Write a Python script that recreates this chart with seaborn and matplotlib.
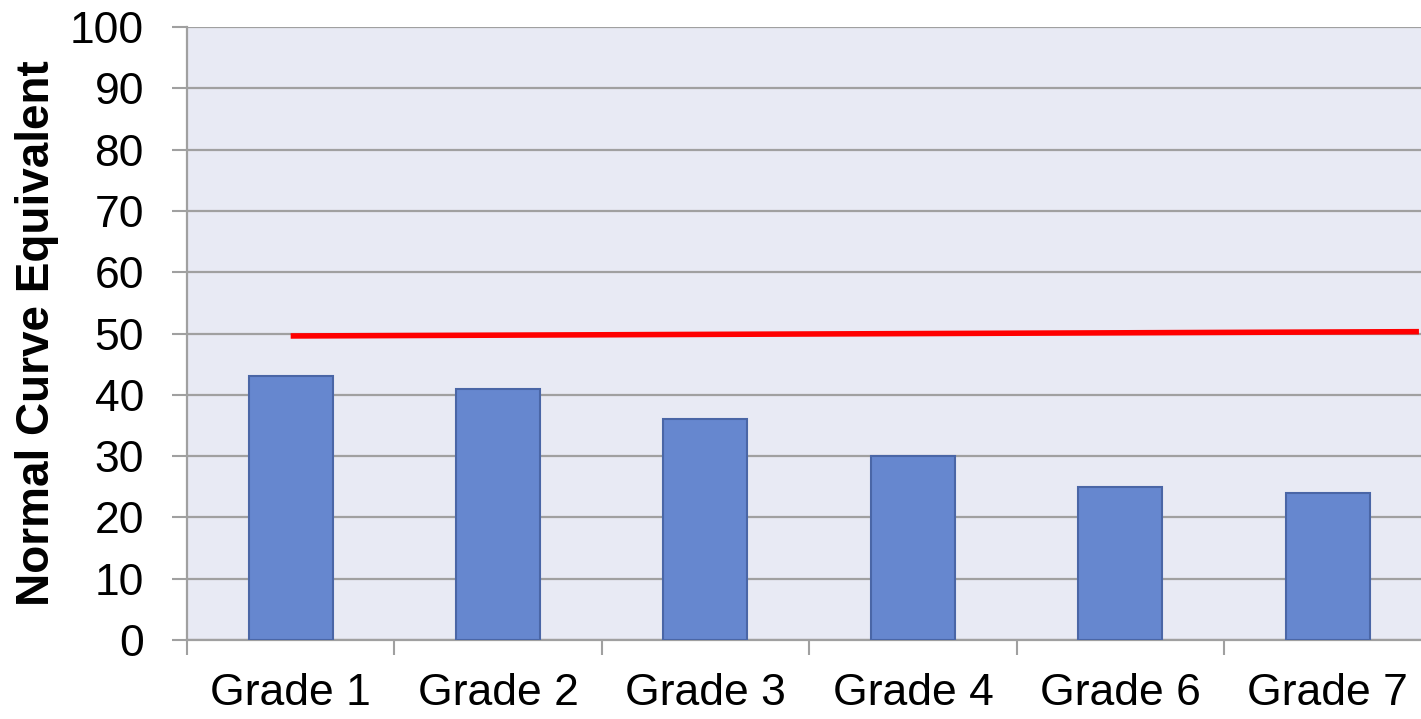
import seaborn as sns
import numpy as np
import pandas as pd
import matplotlib
matplotlib.use("Agg")
import matplotlib.pyplot as plt

grades = ["Grade 1", "Grade 2", "Grade 3", "Grade 4", "Grade 6", "Grade 7"]
nce = [43, 41, 36, 30, 25, 24]
norm_line = [49.6, 50.3]   # red reference line, left and right end
y_ticks = list(range(0, 101, 10))

sns.set_style("darkgrid", {"axes.facecolor": "#E8EAF4", "grid.color": "#A0A0A0"})
plt.rcParams['font.family'] = ['Liberation Sans', 'DejaVu Sans']

df = pd.DataFrame({"grade": grades, "nce": nce})

fig = plt.figure(figsize=(14.21, 7.19), dpi=100)
ax = fig.add_axes([0.1316, 0.1099, 0.8684, 0.8525])
sns.barplot(x="grade", y="nce", data=df, color="#6687CF", saturation=1,
            width=0.405, edgecolor="#4A66A6", linewidth=1.5, ax=ax, zorder=3)

ax.plot([0, 5.44], norm_line, color="#FF0000", linewidth=4, zorder=4,
        solid_capstyle="butt")

ax.set_yticks(y_ticks)
ax.grid(axis="x", visible=False)
ax.grid(axis="y", linewidth=1.6, color="#A0A0A0")
ax.set_axisbelow(True)

# boundary ticks without labels, names at the centres
ax.set_xticks(np.arange(-0.5, len(grades), 1))
ax.set_xticklabels([])
ax.set_xticks(np.arange(len(grades)), minor=True)
ax.set_xticklabels(grades, minor=True, fontsize=32)
ax.tick_params(axis="x", which="major", length=11, width=1.5, color="#A0A0A0",
               direction="out", bottom=True)
ax.tick_params(axis="x", which="minor", length=0, pad=24, labelcolor="black")
ax.tick_params(axis="y", length=11, width=1.5, color="#A0A0A0", direction="out",
               left=True, labelsize=32, pad=20, labelcolor="black")
ax.set_xlim(-0.5, 5.45)
ax.set_ylim(0, 100)

ax.set_xlabel("")
ax.set_ylabel("Normal Curve Equivalent", fontsize=33, fontweight="bold",
              labelpad=8, color="black")

for s in ["top", "right"]:
    ax.spines[s].set_visible(False)
for s in ["left", "bottom"]:
    ax.spines[s].set_visible(True)
    ax.spines[s].set_color("#A0A0A0")
    ax.spines[s].set_linewidth(1.6)

fig.savefig("out.png", dpi=100)
